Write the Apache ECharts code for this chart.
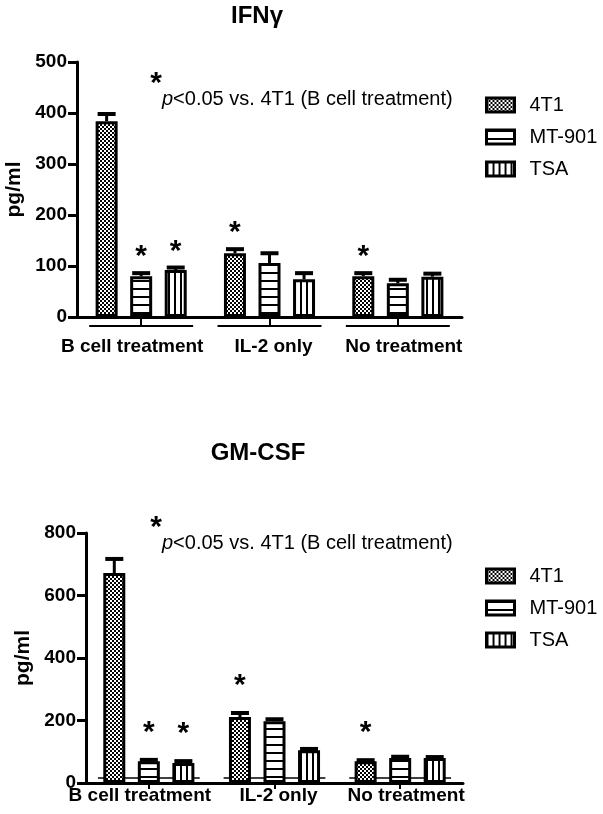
<!DOCTYPE html>
<html><head><meta charset="utf-8">
<script src="https://cdn.jsdelivr.net/npm/echarts@6/dist/echarts.min.js"></script>
<style>html,body{margin:0;padding:0;background:#fff}#c{width:603px;height:814px}</style>
</head><body><div id="c"></div>
<script>
// ---- data ----
const categories = ['B cell treatment', 'IL-2 only', 'No treatment'];
const seriesNames = ['4T1', 'MT-901', 'TSA'];

const ifn4T1 = [384, 125, 80];
const ifnMT901 = [80, 106, 66];
const ifnTSA = [92, 74, 79];
const ifn4T1Err = [398, 133, 86];
const ifnMT901Err = [86, 125, 73];
const ifnTSAErr = [97, 86, 85];

const gm4T1 = [672, 211, 70];
const gmMT901 = [70, 198, 80];
const gmTSA = [64, 105, 80];
const gm4T1Err = [717, 224, 73];
const gmMT901Err = [74, 204, 84];
const gmTSAErr = [70, 109, 83];

const sig4T1 = [0, 1, 1];
const sigMT901 = [1, 0, 0];
const sigTSA = [1, 0, 0];

const ifnAxisMax = 500, ifnAxisStep = 100;
const gmAxisMax = 800, gmAxisStep = 200;

// ---- style ----
const FONT = '"Liberation Sans", Arial, Helvetica, sans-serif';
const BAR_W = 22, BAR_GAP = 0.57;
const STEP = BAR_W * (1 + BAR_GAP);
const LABEL_SHIFT = [-9, 4, 6]; // horizontal nudge of category labels (px)

function makePattern(kind) {
  const c = document.createElement('canvas');
  const ctx = c.getContext('2d');
  if (kind === 'checker') {
    c.width = 4; c.height = 4;
    ctx.fillStyle = '#fff'; ctx.fillRect(0, 0, 4, 4);
    ctx.fillStyle = '#000'; ctx.fillRect(0, 0, 2, 2); ctx.fillRect(2, 2, 2, 2);
  } else if (kind === 'h') {
    c.width = 4; c.height = 8;
    ctx.fillStyle = '#fff'; ctx.fillRect(0, 0, 4, 8);
    ctx.fillStyle = '#000'; ctx.fillRect(0, 0, 4, 2);
  } else {
    c.width = 6; c.height = 4;
    ctx.fillStyle = '#fff'; ctx.fillRect(0, 0, 6, 4);
    ctx.fillStyle = '#000'; ctx.fillRect(0, 0, 2, 4);
  }
  return { image: c, repeat: 'repeat' };
}
const patterns = [makePattern('checker'), makePattern('h'), makePattern('v')];

function barSeries(name, idx, data, gi) {
  return {
    type: 'bar', name, xAxisIndex: gi, yAxisIndex: gi, data,
    barWidth: BAR_W, barGap: (BAR_GAP * 100) + '%',
    itemStyle: { color: patterns[idx], borderColor: '#000', borderWidth: 3 },
    emphasis: { disabled: true }, z: 2
  };
}

function errSeries(idx, vals, errs, sigs, gi, starOff) {
  return {
    type: 'custom', xAxisIndex: gi, yAxisIndex: gi, z: 3, silent: true,
    data: vals.map((v, i) => [i, v, errs[i], sigs[i]]),
    encode: { x: 0, y: [1, 2] },
    renderItem: function (params, api) {
      const c = api.value(0);
      const base = api.coord([c, api.value(1)]);
      const top = api.coord([c, api.value(2)]);
      const x = base[0] + (idx - 1) * STEP;
      const children = [
        { type: 'line', shape: { x1: x, y1: base[1], x2: x, y2: top[1] }, style: { stroke: '#000', lineWidth: 3 } },
        { type: 'line', shape: { x1: x - 9, y1: top[1], x2: x + 9, y2: top[1] }, style: { stroke: '#000', lineWidth: 4 } }
      ];
      if (api.value(3)) {
        children.push({ type: 'text', style: { text: '*', x: x, y: top[1] - starOff, font: 'bold 30px ' + FONT,
          align: 'center', verticalAlign: 'middle', textAlign: 'center', textVerticalAlign: 'middle', fill: '#000' } });
      }
      return { type: 'group', children };
    }
  };
}

function bracketSeries(gi, dy, lw) {
  return {
    type: 'custom', xAxisIndex: gi, yAxisIndex: gi, z: 1, silent: true, clip: false,
    data: categories.map((c, i) => [i, 0]),
    encode: { x: 0, y: 1 },
    renderItem: function (params, api) {
      const p = api.coord([api.value(0), 0]);
      const w = api.size([1, 0])[0];
      return { type: 'line', shape: { x1: p[0] - w * 0.405, y1: p[1] + dy, x2: p[0] + w * 0.405, y2: p[1] + dy },
        style: { stroke: '#000', lineWidth: lw } };
    }
  };
}

function yAxis(gi, max, step, gap, margin) {
  return {
    type: 'value', gridIndex: gi, min: 0, max, interval: step,
    name: 'pg/ml', nameLocation: 'middle', nameGap: gap, nameRotate: 90,
    nameTextStyle: { fontFamily: FONT, fontWeight: 'bold', fontSize: 21, color: '#000' },
    axisLine: { show: true, lineStyle: { color: '#000', width: 3 } },
    axisTick: { show: true, length: 9, lineStyle: { color: '#000', width: 3 } },
    axisLabel: { fontFamily: FONT, fontWeight: 'bold', fontSize: 19, color: '#000', margin },
    splitLine: { show: false }
  };
}

const labelRich = {};
LABEL_SHIFT.forEach((s, i) => {
  labelRich['c' + i] = { fontFamily: FONT, fontWeight: 'bold', fontSize: 19, color: '#000',
    padding: s < 0 ? [0, -2 * s, 0, 0] : [0, 0, 0, 2 * s] };
});

function xAxis(gi, tickLen, margin) {
  return {
    type: 'category', gridIndex: gi, data: categories,
    axisLine: { show: true, lineStyle: { color: '#000', width: 3 } },
    axisTick: { show: true, alignWithLabel: true, length: tickLen, lineStyle: { color: '#000', width: 2 } },
    axisLabel: { fontFamily: FONT, fontWeight: 'bold', fontSize: 19, color: '#000', margin, interval: 0,
      formatter: (v, i) => '{c' + i + '|' + v + '}', rich: labelRich }
  };
}

function legend(top) {
  return {
    orient: 'vertical', left: 485, top, padding: 0, data: seriesNames, selectedMode: false,
    icon: 'rect', itemWidth: 28, itemHeight: 14, itemGap: 12,
    itemStyle: { borderColor: '#000', borderWidth: 3 },
    textStyle: { fontFamily: FONT, fontSize: 20, color: '#000', padding: [0, 0, 0, 10] }
  };
}

function annot(y0) {
  return [
    { type: 'text', x: 156, y: y0 - 15, style: { text: '*', font: 'bold 30px ' + FONT, align: 'center', verticalAlign: 'middle', textAlign: 'center', textVerticalAlign: 'middle', fill: '#000' } },
    { type: 'text', x: 162, y: y0, style: { text: '{i|p}<0.05 vs. 4T1 (B cell treatment)', font: '20px ' + FONT, fill: '#000',
      verticalAlign: 'middle', textVerticalAlign: 'middle',
      rich: { i: { fontStyle: 'italic', fontSize: 20, fontFamily: FONT, fill: '#000' } } } }
  ];
}

const chart = echarts.init(document.getElementById('c'), null, { renderer: 'canvas' });
chart.setOption({
  animation: false,
  backgroundColor: '#fff',
  grid: [
    { left: 77, right: 141, top: 62, height: 255, containLabel: false, outerBoundsMode: 'none' },
    { left: 86, right: 140, top: 533, height: 250, containLabel: false, outerBoundsMode: 'none' }
  ],
  xAxis: [xAxis(0, 9, 20), xAxis(1, 6, 3)],
  yAxis: [yAxis(0, ifnAxisMax, ifnAxisStep, 50, 10), yAxis(1, gmAxisMax, gmAxisStep, 48, 10)],
  legend: [legend(95), legend(566)],
  graphic: [
    { type: 'text', x: 257, y: 16, style: { text: 'IFNγ', font: 'bold 24px ' + FONT, align: 'center', verticalAlign: 'middle', textAlign: 'center', textVerticalAlign: 'middle', fill: '#000' } },
    { type: 'text', x: 258, y: 453, style: { text: 'GM-CSF', font: 'bold 24px ' + FONT, align: 'center', verticalAlign: 'middle', textAlign: 'center', textVerticalAlign: 'middle', fill: '#000' } }
  ].concat(annot(99), annot(543)),
  series: [
    barSeries(seriesNames[0], 0, ifn4T1, 0),
    barSeries(seriesNames[1], 1, ifnMT901, 0),
    barSeries(seriesNames[2], 2, ifnTSA, 0),
    errSeries(0, ifn4T1, ifn4T1Err, sig4T1, 0, 16),
    errSeries(1, ifnMT901, ifnMT901Err, sigMT901, 0, 16),
    errSeries(2, ifnTSA, ifnTSAErr, sigTSA, 0, 16),
    bracketSeries(0, 9, 2),
    barSeries(seriesNames[0], 0, gm4T1, 1),
    barSeries(seriesNames[1], 1, gmMT901, 1),
    barSeries(seriesNames[2], 2, gmTSA, 1),
    errSeries(0, gm4T1, gm4T1Err, sig4T1, 1, 27),
    errSeries(1, gmMT901, gmMT901Err, sigMT901, 1, 27),
    errSeries(2, gmTSA, gmTSAErr, sigTSA, 1, 27),
    bracketSeries(1, -5, 1.5)
  ]
});
</script>
</body></html>
